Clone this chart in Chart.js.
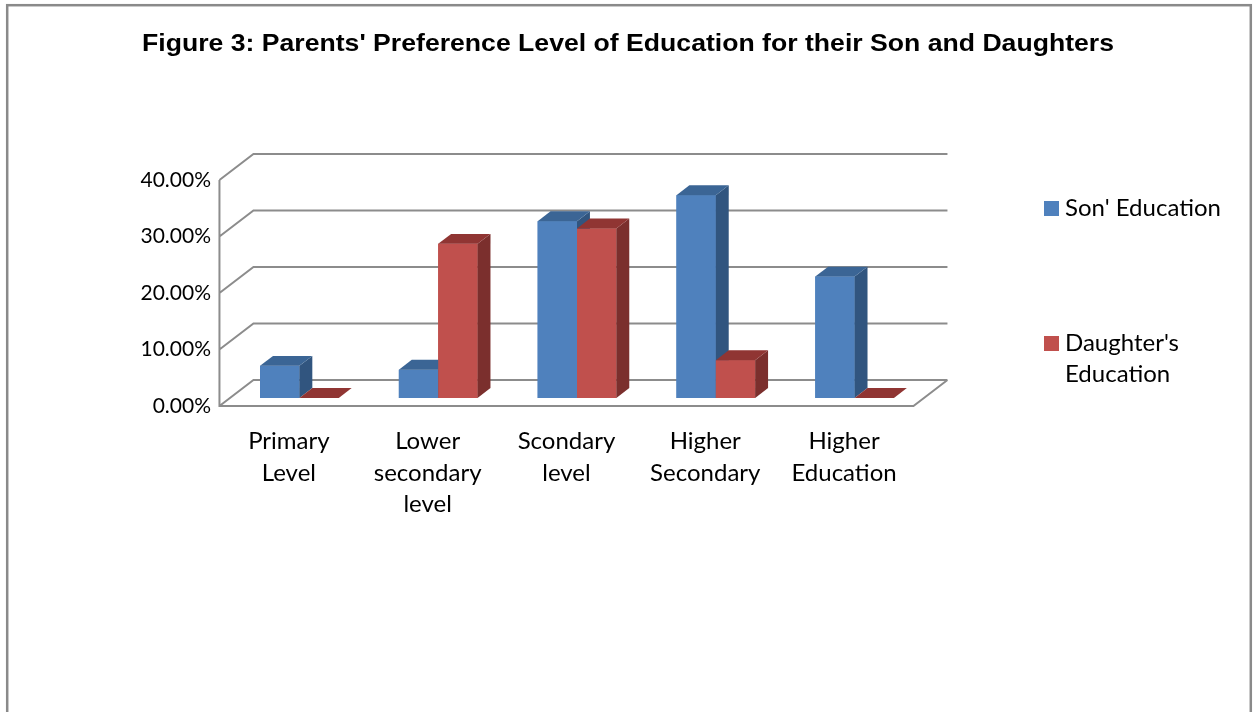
<!DOCTYPE html>
<html>
<head>
<meta charset="utf-8">
<title>Parents' Preference Level of Education</title>
<script src="https://cdn.jsdelivr.net/npm/chart.js@4/dist/chart.umd.min.js"></script>
<style>
  html, body { margin: 0; padding: 0; background: #fff; }
  canvas { display: block; }
</style>
</head>
<body>
<canvas id="chartOne" width="1253" height="712"></canvas>
<script>
"use strict";

const titleText = "Figure 3: Parents' Preference Level of Education for their Son and Daughters";
const levels = [
  ["Primary", "Level"],
  ["Lower", "secondary", "level"],
  ["Scondary", "level"],
  ["Higher", "Secondary"],
  ["Higher", "Education"],
];
const seriesNames = ["Son' Education", "Daughter's Education"];
const sonValues = [5.7, 5.0, 31.3, 35.9, 21.5];
const daughterValues = [0, 27.3, 30.0, 6.7, 0];
const yTicks = [0, 10, 20, 30, 40];

// face colours: front, side, top
const blue = ["#4f81bd", "#31557f", "#3b6595"];
const red = ["#c0504d", "#7b2f2d", "#903533"];
const gridColor = "#8c8c8c";
const labelFont = { family: "Lato", size: 24 };

// depth of the floor, and where the bars sit inside it
const depth = { x: 34, y: -26 };
const frontGap = 0.31;
const barDepth = 0.38;

function poly(ctx, pts, color) {
  ctx.fillStyle = color;
  ctx.beginPath();
  ctx.moveTo(pts[0][0], pts[0][1]);
  for (let k = 1; k < pts.length; k++) ctx.lineTo(pts[k][0], pts[k][1]);
  ctx.closePath();
  ctx.fill();
}

// back wall, side wall and floor
let walls = {
  id: "walls",
  beforeDatasetsDraw(chart) {
    const { ctx, chartArea: a, scales: { y } } = chart;
    const fx = -frontGap * depth.x, fy = -frontGap * depth.y;
    const bx = (1 - frontGap) * depth.x, by = (1 - frontGap) * depth.y;
    ctx.save();
    ctx.strokeStyle = gridColor;
    ctx.lineWidth = 2;
    ctx.beginPath();
    yTicks.forEach((v) => {
      const py = y.getPixelForValue(v);
      ctx.moveTo(a.left + fx, py + fy);
      ctx.lineTo(a.left + bx, py + by);
      ctx.lineTo(a.right + bx, py + by);
    });
    const top = y.getPixelForValue(yTicks[yTicks.length - 1]);
    const base = y.getPixelForValue(0);
    ctx.moveTo(a.left + fx, top + fy);
    ctx.lineTo(a.left + fx, base + fy);
    ctx.lineTo(a.right + fx, base + fy);
    ctx.lineTo(a.right + bx, base + by);
    ctx.stroke();
    ctx.restore();
  },
};

// extrude every bar into a block, category by category
let blocks = {
  id: "blocks",
  afterDatasetsDraw(chart) {
    const ctx = chart.ctx;
    const dx = barDepth * depth.x, dy = barDepth * depth.y;
    ctx.save();
    chart.data.labels.forEach((_, i) => {
      chart.data.datasets.forEach((ds, d) => {
        const bar = chart.getDatasetMeta(d).data[i];
        const { x, y, base, width } = bar.getProps(["x", "y", "base", "width"], true);
        const l = x - width / 2, r = x + width / 2;
        const c = ds.faces;
        if (base - y > 0.5) {
          ctx.fillStyle = c[0];
          ctx.fillRect(l, y, width, base - y);
          poly(ctx, [[r, y], [r + dx, y + dy], [r + dx, base + dy], [r, base]], c[1]);
        }
        poly(ctx, [[l, y], [r, y], [r + dx, y + dy], [l + dx, y + dy]], c[2]);
      });
    });
    ctx.restore();
  },
};

let titleAndLegend = {
  id: "titleAndLegend",
  afterDraw(chart) {
    const ctx = chart.ctx;
    ctx.save();
    // frame
    ctx.strokeStyle = "#8a8a8a";
    ctx.lineWidth = 2.5;
    ctx.strokeRect(7.2, 5.2, 1243.6, 800);

    // title, widened a little to span 972px
    ctx.fillStyle = "#000";
    ctx.font = "bold 24px 'Liberation Sans', Arial, sans-serif";
    ctx.textAlign = "center";
    ctx.textBaseline = "middle";
    const sx = 972 / ctx.measureText(titleText).width;
    ctx.save();
    ctx.translate(628, 44);
    ctx.scale(sx, 1);
    ctx.fillText(titleText, 0, 0);
    ctx.restore();

    // legend, wrapped to the space right of the plot
    ctx.font = labelFont.size + "px " + labelFont.family;
    ctx.textAlign = "left";
    const rows = [208, 343];
    chart.data.datasets.forEach((ds, d) => {
      const words = ds.label.split(" ");
      const lines = [];
      let line = "";
      words.forEach((w) => {
        const t = line ? line + " " + w : w;
        if (line && ctx.measureText(t).width > 172) {
          lines.push(line);
          line = w;
        } else line = t;
      });
      lines.push(line);
      ctx.fillStyle = ds.backgroundColor;
      ctx.fillRect(1044, rows[d] - 7, 15, 15);
      ctx.fillStyle = "#000";
      lines.forEach((ln, k) => ctx.fillText(ln, 1065, rows[d] + k * 31));
    });
    ctx.restore();
  },
};

let ctxOne = document.getElementById("chartOne").getContext("2d");
let chartOne = new Chart(ctxOne, {
  type: "bar",
  data: {
    labels: levels,
    datasets: [
      { label: seriesNames[0], data: sonValues, backgroundColor: blue[0], faces: blue },
      { label: seriesNames[1], data: daughterValues, backgroundColor: red[0], faces: red },
    ],
  },
  options: {
    responsive: false,
    animation: false,
    devicePixelRatio: 1,
    categoryPercentage: 0.567,
    barPercentage: 1,
    layout: { padding: { top: 172, right: 329, bottom: 0, left: 0 } },
    plugins: {
      legend: { display: false },
      title: { display: false },
      tooltip: { enabled: false },
    },
    scales: {
      x: {
        grid: { display: false, drawTicks: false },
        border: { display: false },
        ticks: {
          color: "#000",
          font: { family: labelFont.family, size: labelFont.size, lineHeight: "31.5px" },
          padding: 28,
          labelOffset: -frontGap * depth.x,
          maxRotation: 0,
          autoSkip: false,
        },
        afterFit(scale) { scale.height = 314; },
      },
      y: {
        min: 0,
        max: 40,
        grid: { display: false, drawTicks: false },
        border: { display: false },
        ticks: {
          stepSize: 10,
          color: "#000",
          font: { family: labelFont.family, size: 21 },
          padding: 19,
          labelOffset: -frontGap * depth.y,
          callback: (v) => v.toFixed(2) + "%",
        },
        afterFit(scale) { scale.width = 230; },
      },
    },
  },
  plugins: [walls, blocks, titleAndLegend],
});
</script>
</body>
</html>
